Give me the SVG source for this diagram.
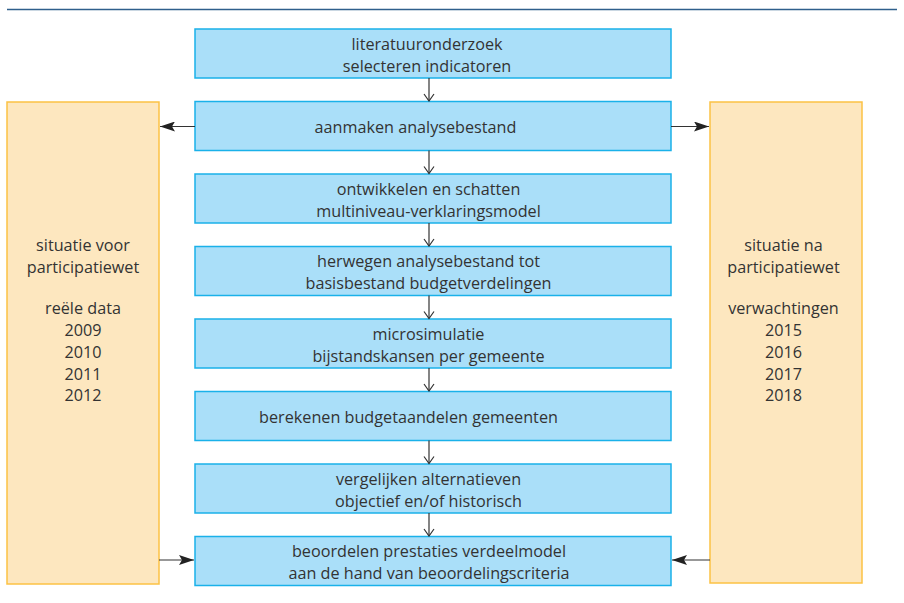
<svg xmlns="http://www.w3.org/2000/svg" width="904" height="603" viewBox="0 0 904 603">
<defs>
<style>
.b{fill:#aadff9;stroke:#1ab1e9;stroke-width:1.5}
.o{fill:#fde7bf;stroke:#fcc244;stroke-width:1.5}
text{font-family:"Open Sans","Noto Sans","Liberation Sans",sans-serif;font-size:16.2px;fill:#333;text-anchor:middle}
.c line{stroke:#333;stroke-width:1.2}
</style>
<marker id="v" markerWidth="12" markerHeight="10" refX="6" refY="9" orient="0" markerUnits="userSpaceOnUse"><path d="M1,2 L6,9 L11,2" fill="none" stroke="#333" stroke-width="1.2"/></marker>
<marker id="f" markerWidth="16" markerHeight="10" refX="15" refY="5" orient="auto" markerUnits="userSpaceOnUse"><path d="M0,0 L15,5 L0,10 L3,5 Z" fill="#222"/></marker>
</defs>
<rect width="904" height="603" fill="#fff"/>
<line x1="7" y1="9.5" x2="897" y2="9.5" stroke="#2f5f8c" stroke-width="1.5"/>
<g id="left"><rect class="o" x="7" y="102" width="152" height="482"/>
<text><tspan x="83" y="250.5">situatie voor</tspan><tspan x="83" y="273">participatiewet</tspan><tspan x="83" y="313.5">reële data</tspan><tspan x="83" y="336">2009</tspan><tspan x="83" y="358">2010</tspan><tspan x="83" y="380">2011</tspan><tspan x="83" y="401">2012</tspan></text></g>
<g id="right"><rect class="o" x="710" y="102" width="152" height="481"/>
<text><tspan x="783.5" y="250.5">situatie na</tspan><tspan x="783.5" y="273">participatiewet</tspan><tspan x="783.5" y="313.5">verwachtingen</tspan><tspan x="783.5" y="336">2015</tspan><tspan x="783.5" y="358">2016</tspan><tspan x="783.5" y="380">2017</tspan><tspan x="783.5" y="401">2018</tspan></text></g>
<g id="n1"><rect class="b" x="195" y="29" width="476" height="49"/><text><tspan x="427" y="49.5">literatuuronderzoek</tspan><tspan x="427" y="71.5">selecteren indicatoren</tspan></text></g>
<g id="n2"><rect class="b" x="195" y="101.5" width="476" height="49"/><text x="415.5" y="133">aanmaken analysebestand</text></g>
<g id="n3"><rect class="b" x="195" y="174" width="476" height="49"/><text><tspan x="428.5" y="194.5">ontwikkelen en schatten</tspan><tspan x="428.5" y="216.5">multiniveau-verklaringsmodel</tspan></text></g>
<g id="n4"><rect class="b" x="195" y="246.5" width="476" height="49"/><text><tspan x="428.5" y="267">herwegen analysebestand tot</tspan><tspan x="428.5" y="289">basisbestand budgetverdelingen</tspan></text></g>
<g id="n5"><rect class="b" x="195" y="319" width="476" height="49"/><text><tspan x="428.5" y="339.5">microsimulatie</tspan><tspan x="428.5" y="361.5">bijstandskansen per gemeente</tspan></text></g>
<g id="n6"><rect class="b" x="195" y="391.5" width="476" height="49"/><text x="408.5" y="422.5">berekenen budgetaandelen gemeenten</text></g>
<g id="n7"><rect class="b" x="195" y="464" width="476" height="49"/><text><tspan x="428.5" y="484.5">vergelijken alternatieven</tspan><tspan x="428.5" y="506.5">objectief en/of historisch</tspan></text></g>
<g id="n8"><rect class="b" x="195" y="536.5" width="476" height="49"/><text><tspan x="429" y="557">beoordelen prestaties verdeelmodel</tspan><tspan x="429" y="579">aan de hand van beoordelingscriteria</tspan></text></g>
<g id="connectors" class="c">
<line x1="429" y1="78" x2="429" y2="101" marker-end="url(#v)"/>
<line x1="429" y1="150.5" x2="429" y2="173.5" marker-end="url(#v)"/>
<line x1="429" y1="223" x2="429" y2="246" marker-end="url(#v)"/>
<line x1="429" y1="295.5" x2="429" y2="318.5" marker-end="url(#v)"/>
<line x1="429" y1="368" x2="429" y2="391" marker-end="url(#v)"/>
<line x1="429" y1="440.5" x2="429" y2="463.5" marker-end="url(#v)"/>
<line x1="429" y1="513" x2="429" y2="536" marker-end="url(#v)"/>
<line x1="195" y1="126.5" x2="160" y2="126.5" marker-end="url(#f)"/>
<line x1="671" y1="126.5" x2="709" y2="126.5" marker-end="url(#f)"/>
<line x1="159" y1="560" x2="194" y2="560" marker-end="url(#f)"/>
<line x1="710" y1="560" x2="672" y2="560" marker-end="url(#f)"/>
</g>
</svg>
